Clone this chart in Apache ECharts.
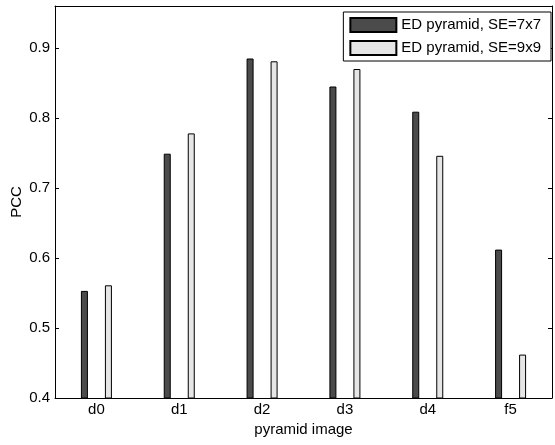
<!DOCTYPE html>
<html>
<head>
<meta charset="utf-8">
<script src="https://cdn.jsdelivr.net/npm/echarts@6/dist/echarts.min.js"></script>
<style>
  html, body { margin: 0; padding: 0; background: #fff; }
  #chart { width: 555px; height: 445px; }
</style>
</head>
<body>
<div id="chart"></div>
<script>
const categories = ['d0', 'd1', 'd2', 'd3', 'd4', 'f5']
const se7x7 = [0.553, 0.749, 0.885, 0.845, 0.809, 0.612]
const se9x9 = [0.561, 0.778, 0.881, 0.870, 0.746, 0.462]
const seriesNames = ['ED pyramid, SE=7x7', 'ED pyramid, SE=9x9']

const chart = echarts.init(document.getElementById('chart'))
const font = 'Liberation Sans, Arial, Helvetica, sans-serif'
const txt = { color: '#000', fontFamily: font, fontSize: 15 }

const option = {
  animation: false,
  textStyle: { fontFamily: font },
  grid: { left: 55, right: 3, top: 6, bottom: 47, containLabel: false, outerBoundsMode: 'none' },
  legend: {
    orient: 'vertical',
    right: 4,
    top: 12,
    itemWidth: 46,
    itemHeight: 14,
    itemGap: 7,
    padding: [5, 10, 5, 6],
    borderColor: '#000',
    borderWidth: 1,
    backgroundColor: '#fff',
    borderRadius: 0,
    icon: 'rect',
    textStyle: txt,
    data: seriesNames
  },
  xAxis: [
    {
      type: 'category',
      data: categories,
      name: 'pyramid image',
      nameLocation: 'middle',
      nameGap: 24,
      nameMoveOverlap: false,
      nameTextStyle: txt,
      axisLine: { lineStyle: { color: '#000', width: 1 } },
      axisTick: { inside: true, alignWithLabel: true, length: 4, lineStyle: { color: '#666' } },
      axisLabel: { ...txt, margin: 4 },
      splitLine: { show: false }
    },
    {
      type: 'category',
      data: categories,
      position: 'top',
      axisLine: { lineStyle: { color: '#000', width: 1 } },
      axisTick: { inside: true, alignWithLabel: true, length: 4, lineStyle: { color: '#000' } },
      axisLabel: { show: false },
      splitLine: { show: false }
    }
  ],
  yAxis: [
    {
      type: 'value',
      min: 0.4,
      max: 0.96,
      interval: 0.1,
      name: 'PCC',
      nameLocation: 'middle',
      nameGap: 31,
      nameMoveOverlap: false,
      nameTextStyle: txt,
      axisLine: { show: true, lineStyle: { color: '#000', width: 1 } },
      axisTick: { show: true, inside: true, length: 4, lineStyle: { color: '#000' } },
      axisLabel: { ...txt, margin: 5, showMaxLabel: false, formatter: v => v.toFixed(1) },
      splitLine: { show: false }
    },
    {
      type: 'value',
      min: 0.4,
      max: 0.96,
      interval: 0.1,
      position: 'right',
      axisLine: { show: true, lineStyle: { color: '#000', width: 1 } },
      axisTick: { show: true, inside: true, length: 4, lineStyle: { color: '#000' } },
      axisLabel: { show: false },
      splitLine: { show: false }
    }
  ],
  series: [
    {
      name: seriesNames[0],
      type: 'bar',
      data: se7x7,
      barWidth: 7,
      barGap: '243%',
      itemStyle: { color: '#4b4b4b', borderColor: '#000', borderWidth: 1 }
    },
    {
      name: seriesNames[1],
      type: 'bar',
      data: se9x9,
      barWidth: 7,
      barGap: '243%',
      itemStyle: { color: '#e6e6e6', borderColor: '#000', borderWidth: 1 }
    }
  ]
}

chart.setOption(option)
</script>
</body>
</html>
